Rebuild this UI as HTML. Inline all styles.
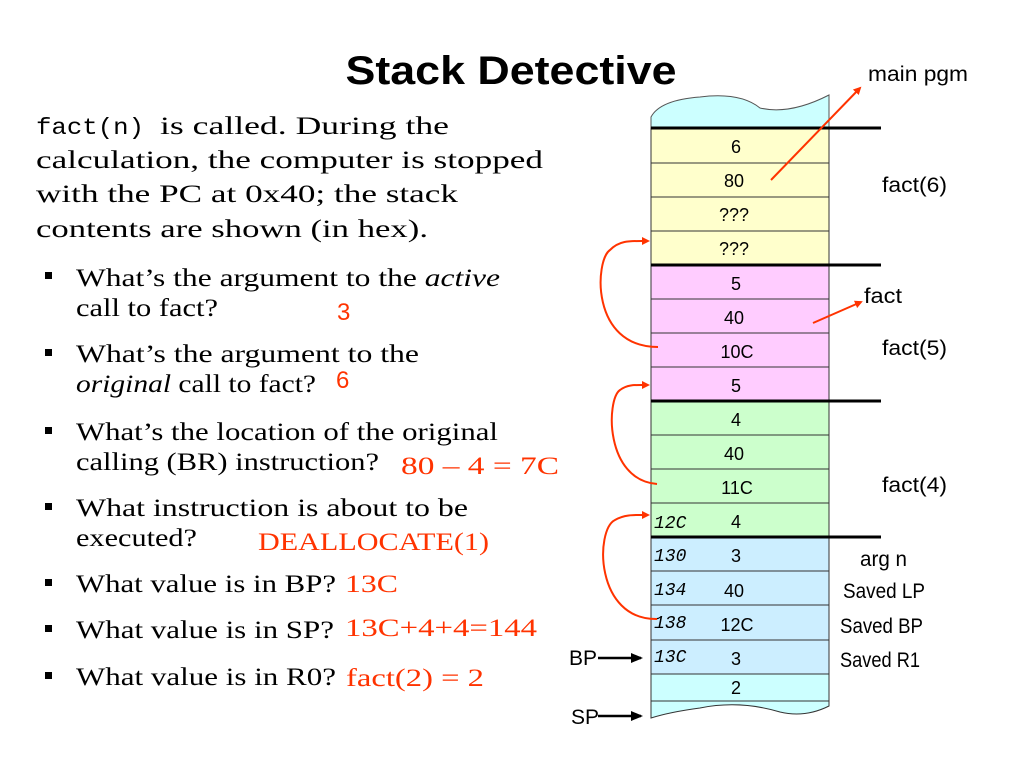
<!DOCTYPE html>
<html><head><meta charset="utf-8"><style>
html,body{margin:0;padding:0;background:#fff;}
svg{display:block;}
.s{font-family:"Liberation Serif",serif;font-size:25px;fill:#000;}
.r{font-family:"Liberation Serif",serif;font-size:25px;fill:#ff3300;}
.rs{font-family:"Liberation Sans",sans-serif;font-size:24px;fill:#ff3300;}
.l{font-family:"Liberation Sans",sans-serif;font-size:21px;fill:#000;}
.v{font-family:"Liberation Sans",sans-serif;font-size:18px;fill:#000;text-anchor:middle;}
.a{font-family:"Liberation Mono",monospace;font-style:italic;font-size:18px;fill:#000;}
</style></head><body>
<svg width="1024" height="768" viewBox="0 0 1024 768" xmlns="http://www.w3.org/2000/svg">
<defs>
<marker id="ah" markerWidth="8" markerHeight="8" refX="6" refY="4" orient="auto" markerUnits="userSpaceOnUse"><path d="M0,0 L8,4 L0,8 z" fill="#ff3300"/></marker>
<marker id="bh" markerWidth="12" markerHeight="10" refX="10" refY="5" orient="auto" markerUnits="userSpaceOnUse"><path d="M0,0 L12,5 L0,10 z" fill="#000"/></marker>
</defs>
<text x="511" y="84" text-anchor="middle" font-family="Liberation Sans,sans-serif" font-weight="bold" font-size="40" textLength="331" lengthAdjust="spacingAndGlyphs">Stack Detective</text>

<text class="s" x="36" y="134"><tspan font-family="Liberation Mono,monospace" font-size="23" textLength="108" lengthAdjust="spacingAndGlyphs">fact(n)</tspan><tspan x="160" textLength="289" lengthAdjust="spacingAndGlyphs">is called.  During the</tspan></text>
<text class="s" x="36" y="168" textLength="507" lengthAdjust="spacingAndGlyphs">calculation, the computer is stopped</text>
<text class="s" x="36" y="202" textLength="422" lengthAdjust="spacingAndGlyphs">with the PC at 0x40; the stack</text>
<text class="s" x="36" y="237" textLength="392" lengthAdjust="spacingAndGlyphs">contents are shown (in hex).</text>

<g fill="#000">
<rect x="45" y="272" width="7" height="7"/><rect x="45" y="349" width="7" height="7"/><rect x="45" y="427" width="7" height="7"/><rect x="45" y="503" width="7" height="7"/><rect x="45" y="579" width="7" height="7"/><rect x="45" y="625" width="7" height="7"/><rect x="45" y="672" width="7" height="7"/>
</g>
<text class="s" x="76" y="286" textLength="424" lengthAdjust="spacingAndGlyphs">What’s the argument to the <tspan font-style="italic">active</tspan></text>
<text class="s" x="76" y="316" textLength="142" lengthAdjust="spacingAndGlyphs">call to fact?</text>
<text class="rs" x="337" y="320">3</text>
<text class="s" x="76" y="362" textLength="343" lengthAdjust="spacingAndGlyphs">What’s the argument to the</text>
<text class="s" x="76" y="392" textLength="240" lengthAdjust="spacingAndGlyphs"><tspan font-style="italic">original</tspan> call to fact?</text>
<text class="rs" x="336" y="388">6</text>
<text class="s" x="76" y="440" textLength="422" lengthAdjust="spacingAndGlyphs">What’s the location of the original</text>
<text class="s" x="76" y="470" textLength="303" lengthAdjust="spacingAndGlyphs">calling (BR) instruction?</text>
<text class="r" x="401" y="474" textLength="158" lengthAdjust="spacingAndGlyphs">80 – 4 = 7C</text>
<text class="s" x="76" y="516" textLength="392" lengthAdjust="spacingAndGlyphs">What instruction is about to be</text>
<text class="s" x="76" y="546" textLength="121" lengthAdjust="spacingAndGlyphs">executed?</text>
<text class="r" x="258" y="550" textLength="231" lengthAdjust="spacingAndGlyphs">DEALLOCATE(1)</text>
<text class="s" x="76" y="592" textLength="260" lengthAdjust="spacingAndGlyphs">What value is in BP?</text>
<text class="r" x="345" y="592" textLength="53" lengthAdjust="spacingAndGlyphs">13C</text>
<text class="s" x="76" y="638" textLength="258" lengthAdjust="spacingAndGlyphs">What value is in SP?</text>
<text class="r" x="345" y="636" textLength="192" lengthAdjust="spacingAndGlyphs">13C+4+4=144</text>
<text class="s" x="76" y="685" textLength="260" lengthAdjust="spacingAndGlyphs">What value is in R0?</text>
<text class="r" x="346" y="686" textLength="138" lengthAdjust="spacingAndGlyphs">fact(2) = 2</text>

<!-- stack -->
<path d="M651,128 L651,117 Q660,100 700,97 Q740,92 760,108 Q790,115 829,95 L829,128 Z" fill="#ccffff" stroke="#555" stroke-width="1"/>
<g stroke="#333" stroke-width="1">
<rect x="651" y="128" width="178" height="137" fill="#ffffcc"/>
<rect x="651" y="265" width="178" height="136" fill="#ffccff"/>
<rect x="651" y="401" width="178" height="136" fill="#ccffcc"/>
<rect x="651" y="537" width="178" height="137" fill="#cceeff"/>
<path d="M651,674 L829,674 L829,706 Q805,718 780,712 Q740,700 700,708 Q670,712 651,718 Z" fill="#ccffff"/>
<line x1="651" y1="163" x2="829" y2="163"/><line x1="651" y1="197" x2="829" y2="197"/><line x1="651" y1="231" x2="829" y2="231"/>
<line x1="651" y1="299" x2="829" y2="299"/><line x1="651" y1="333" x2="829" y2="333"/><line x1="651" y1="367" x2="829" y2="367"/>
<line x1="651" y1="435" x2="829" y2="435"/><line x1="651" y1="469" x2="829" y2="469"/><line x1="651" y1="503" x2="829" y2="503"/>
<line x1="651" y1="571" x2="829" y2="571"/><line x1="651" y1="605" x2="829" y2="605"/><line x1="651" y1="640" x2="829" y2="640"/>
<line x1="651" y1="701" x2="829" y2="701"/>
</g>
<g stroke="#000" stroke-width="3">
<line x1="651" y1="128" x2="881" y2="128"/><line x1="651" y1="265" x2="881" y2="265"/><line x1="651" y1="401" x2="881" y2="401"/><line x1="651" y1="537" x2="881" y2="537"/>
</g>
<text class="v" x="736" y="153">6</text>
<text class="v" x="734" y="187">80</text>
<text class="v" x="734" y="221">???</text>
<text class="v" x="734" y="255">???</text>
<text class="v" x="736" y="290">5</text>
<text class="v" x="734" y="324">40</text>
<text class="v" x="737" y="358">10C</text>
<text class="v" x="736" y="392">5</text>
<text class="v" x="736" y="426">4</text>
<text class="v" x="734" y="460">40</text>
<text class="v" x="737" y="494">11C</text>
<text class="v" x="736" y="528">4</text>
<text class="v" x="736" y="562">3</text>
<text class="v" x="734" y="597">40</text>
<text class="v" x="737" y="631">12C</text>
<text class="v" x="736" y="665">3</text>
<text class="v" x="736" y="694">2</text>
<text class="a" x="654" y="528">12C</text>
<text class="a" x="654" y="561">130</text>
<text class="a" x="654" y="595">134</text>
<text class="a" x="654" y="628">138</text>
<text class="a" x="654" y="662">13C</text>

<text class="l" x="868" y="81" textLength="100" lengthAdjust="spacingAndGlyphs">main pgm</text>
<text class="l" x="882" y="192" textLength="65" lengthAdjust="spacingAndGlyphs">fact(6)</text>
<text class="l" x="864" y="303" textLength="38" lengthAdjust="spacingAndGlyphs">fact</text>
<text class="l" x="882" y="355" textLength="65" lengthAdjust="spacingAndGlyphs">fact(5)</text>
<text class="l" x="882" y="492" textLength="65" lengthAdjust="spacingAndGlyphs">fact(4)</text>
<text class="l" x="860" y="566" font-size="18" textLength="47" lengthAdjust="spacingAndGlyphs">arg n</text>
<text class="l" x="843" y="598" font-size="19" textLength="82" lengthAdjust="spacingAndGlyphs">Saved LP</text>
<text class="l" x="840" y="633" font-size="19" textLength="83" lengthAdjust="spacingAndGlyphs">Saved BP</text>
<text class="l" x="840" y="667" font-size="19" textLength="80" lengthAdjust="spacingAndGlyphs">Saved R1</text>
<text class="l" x="569" y="665" font-size="22">BP</text>
<text class="l" x="571" y="724" font-size="22">SP</text>
<line x1="598" y1="658" x2="641" y2="658" stroke="#000" stroke-width="2.5" marker-end="url(#bh)"/>
<line x1="598" y1="716" x2="641" y2="716" stroke="#000" stroke-width="2.5" marker-end="url(#bh)"/>

<g fill="none" stroke="#ff3300" stroke-width="2">
<line x1="771" y1="180" x2="860" y2="88" marker-end="url(#ah)"/>
<line x1="813" y1="323" x2="861" y2="302" marker-end="url(#ah)"/>
<path d="M658,347 C590,347 595,260 610,250 C620,240 630,241 648,241" marker-end="url(#ah)"/>
<path d="M657,484 C605,480 606,400 620,390 C628,384 636,385 648,385" marker-end="url(#ah)"/>
<path d="M657,619 C595,620 595,530 615,520 C625,514 636,515 648,515" marker-end="url(#ah)"/>
</g>
</svg>
</body></html>
